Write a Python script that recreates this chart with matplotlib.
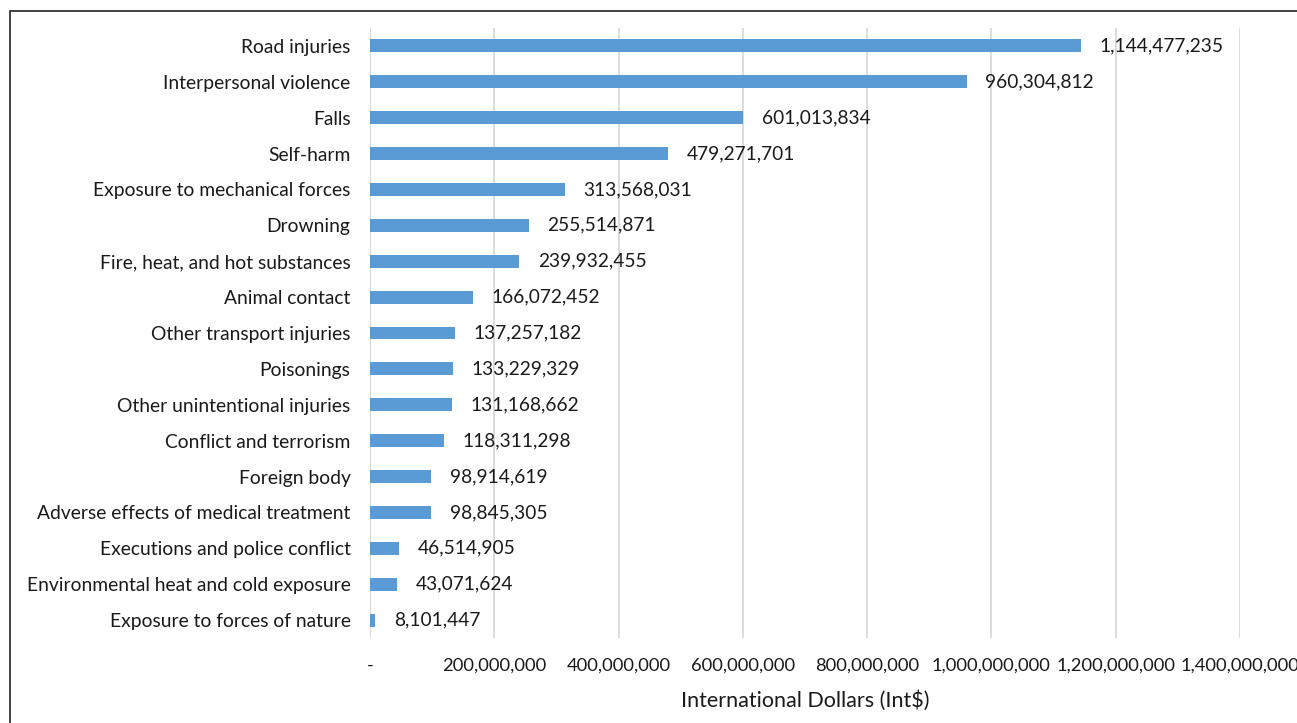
import matplotlib
matplotlib.use("Agg")
import matplotlib.pyplot as plt
from matplotlib.patches import Rectangle

categories = [
    "Road injuries", "Interpersonal violence", "Falls", "Self-harm",
    "Exposure to mechanical forces", "Drowning", "Fire, heat, and hot substances",
    "Animal contact", "Other transport injuries", "Poisonings",
    "Other unintentional injuries", "Conflict and terrorism", "Foreign body",
    "Adverse effects of medical treatment", "Executions and police conflict",
    "Environmental heat and cold exposure", "Exposure to forces of nature",
]
values = [
    1144477235, 960304812, 601013834, 479271701, 313568031, 255514871,
    239932455, 166072452, 137257182, 133229329, 131168662, 118311298,
    98914619, 98845305, 46514905, 43071624, 8101447,
]
xticks = [0, 200000000, 400000000, 600000000, 800000000, 1000000000, 1200000000, 1400000000]
xticklabels = ["-", "200,000,000", "400,000,000", "600,000,000", "800,000,000",
               "1,000,000,000", "1,200,000,000", "1,400,000,000"]
xlabel = "International Dollars (Int$)"

plt.rcParams['font.family'] = ['Lato', 'DejaVu Sans']
W, H = 1297, 723
fig = plt.figure(figsize=(W / 100, H / 100), dpi=100)
ax = fig.add_axes([370 / W, 1 - 638 / H, 870 / W, 610 / H])

n = len(categories)
ypos = list(range(n))
ax.barh(ypos, values, height=0.36, color="#5B9BD5", zorder=3)
ax.set_ylim(n - 0.5, -0.5)
ax.set_xlim(0, 1400000000)
ax.set_yticks(ypos)
ax.set_yticklabels(categories, fontsize=13.9, color="#1a1a1a")
ax.set_xticks(xticks)
ax.set_xticklabels(xticklabels, fontsize=13.2, color="#1a1a1a")
ax.tick_params(axis="both", length=0)
ax.tick_params(axis="y", pad=14)
ax.tick_params(axis="x", pad=14)
ax.set_xlabel(xlabel, fontsize=15.5, color="#1a1a1a", labelpad=12)
for s in ax.spines.values():
    s.set_visible(False)
ax.grid(axis="x", color="#d9d9d9", linewidth=1.3, zorder=0)
ax.axvline(0, color="#d9d9d9", linewidth=1.3, zorder=1)

for y, v in zip(ypos, values):
    ax.text(v + 30000000, y, f"{v:,}", va="center", ha="left", fontsize=13.8, color="#1a1a1a")

fig.patches.append(Rectangle((10 / W, -0.1), 1.2, 1 - 11 / H + 0.1, transform=fig.transFigure,
                             fill=False, edgecolor="#222222", linewidth=1.2))
fig.savefig("out.png", dpi=100)
